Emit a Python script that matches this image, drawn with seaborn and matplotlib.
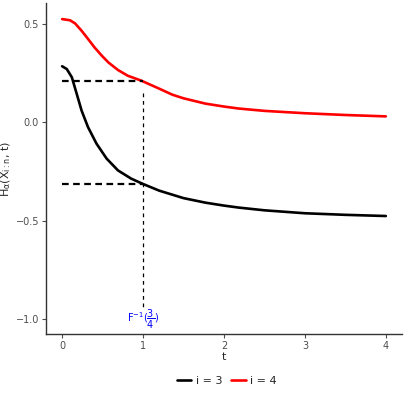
import numpy as np
import pandas as pd
import matplotlib
matplotlib.use("Agg")
import matplotlib.pyplot as plt
import seaborn as sns

# --- data ---
t_i3 = [0.0, 0.057, 0.12, 0.18, 0.24, 0.32, 0.425, 0.55, 0.69, 0.854, 1.0,
        1.2, 1.5, 1.77, 2.0, 2.18, 2.5, 3.0, 3.5, 4.0]
h_i3 = [0.286, 0.272, 0.23, 0.146, 0.061, -0.024, -0.108, -0.184, -0.244, -0.286, -0.313,
        -0.347, -0.385, -0.408, -0.423, -0.433, -0.447, -0.462, -0.47, -0.476]

t_i4 = [0.0, 0.098, 0.16, 0.24, 0.32, 0.40, 0.49, 0.57, 0.69, 0.81, 0.977,
        1.2, 1.364, 1.5, 1.77, 2.0, 2.18, 2.5, 3.0, 3.5, 4.0]
h_i4 = [0.526, 0.52, 0.504, 0.467, 0.425, 0.382, 0.34, 0.306, 0.267, 0.238, 0.213,
        0.172, 0.141, 0.123, 0.096, 0.081, 0.071, 0.059, 0.047, 0.038, 0.031]

labels = ["i = 3", "i = 4"]
t_star = 1.0
h_star = [0.21, -0.315]
yticks = [-1.0, -0.5, 0.0, 0.5]
xticks = [0, 1, 2, 3, 4]

df = pd.concat([
    pd.DataFrame({"t": t_i3, "H": h_i3, "grp": labels[0]}),
    pd.DataFrame({"t": t_i4, "H": h_i4, "grp": labels[1]}),
])

sns.set_theme(style="white")
plt.rcParams["font.family"] = ["DejaVu Sans"]
plt.rcParams["mathtext.default"] = "regular"

fig = plt.figure(figsize=(4.14, 3.98), dpi=100)
ax = fig.add_axes([0.111, 0.161, 0.86, 0.831])

sns.lineplot(data=df, x="t", y="H", hue="grp", palette=["black", "red"],
             linewidth=1.9, ax=ax, legend=True)

# reference lines at t = F^-1(3/4)
for h in h_star:
    ax.plot([0, t_star], [h, h], color="black", linestyle=(0, (3, 2)), linewidth=1.6)
ax.plot([t_star, t_star], [0.15, -0.94], color="black", linestyle=(0, (3, 3)), linewidth=0.9)
ax.text(t_star, -1.0, r"$F^{-1}(\dfrac{3}{4})$", color="blue", fontsize=7,
        ha="center", va="center")

ax.set_xlim(-0.2, 4.2)
ax.set_ylim(-1.076, 0.607)
ax.set_xticks(xticks)
ax.set_yticks(yticks)
ax.set_xticklabels([str(x) for x in xticks])
ax.set_yticklabels(["\u22121.0", "\u22120.5", "0.0", "0.5"])
ax.tick_params(axis="both", labelsize=7, colors="#4D4D4D", length=3, width=0.8,
               bottom=True, left=True, pad=2)
for s in ["top", "right"]:
    ax.spines[s].set_visible(False)
for s in ["left", "bottom"]:
    ax.spines[s].set_color("#333333")
    ax.spines[s].set_linewidth(1.0)
ax.grid(False)

ax.set_xlabel("t", fontsize=8, labelpad=1)
ax.set_ylabel(r"$H_{\alpha}(X_{i:n},\,t)$", fontsize=8, labelpad=2)

handles, _ = ax.get_legend_handles_labels()
ax.legend(handles, labels, loc="center", bbox_to_anchor=(0.548, 0.043),
          bbox_transform=fig.transFigure, ncol=2, frameon=False, fontsize=8,
          handlelength=1.3, columnspacing=0.8, handletextpad=0.4)

fig.savefig("out.png", dpi=100)
